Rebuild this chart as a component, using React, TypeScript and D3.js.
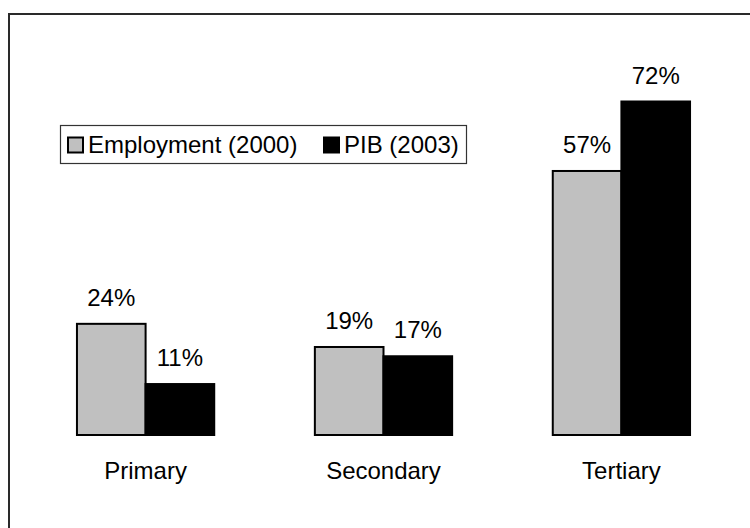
import React, { useEffect, useRef } from 'react'
import * as d3 from 'd3'

const categories = ['Primary', 'Secondary', 'Tertiary']
const seriesNames = ['Employment (2000)', 'PIB (2003)']
const employment = [24, 19, 57]
const pib = [11, 17, 72]
const colors = ['#c0c0c0', '#000000']

const W = 750
const H = 528

const App = () => {
  const ref = useRef<SVGSVGElement>(null)

  useEffect(() => {
    draw()
  }, [])

  const draw = () => {
    const svg = d3.select(ref.current)
    svg.selectAll('*').remove()

    const font = 'Arial, "Liberation Sans", sans-serif'

    // outer frame, runs off the right and bottom edges
    svg
      .append('rect')
      .attr('x', 9)
      .attr('y', 14)
      .attr('width', W + 20)
      .attr('height', H + 20)
      .attr('fill', '#fff')
      .attr('stroke', '#2a2a2a')
      .attr('stroke-width', 2)

    const x0 = d3
      .scaleBand()
      .domain(categories)
      .range([27, 740])
      .paddingInner(0.423)
      .paddingOuter(0.21)
    const x1 = d3.scaleBand().domain(seriesNames).range([0, x0.bandwidth()])
    const y = d3.scaleLinear().domain([0, 72]).range([435, 101.5])

    const rows = categories.map((c, i) => ({
      cat: c,
      vals: [employment[i], pib[i]],
    }))

    const groups = svg
      .append('g')
      .selectAll('g')
      .data(rows)
      .enter()
      .append('g')
      .attr('transform', (d) => `translate(${x0(d.cat)},0)`)

    groups
      .selectAll('rect')
      .data((d) => d.vals.map((v, j) => ({ v, j })))
      .enter()
      .append('rect')
      .attr('x', (d) => x1(seriesNames[d.j]) as number)
      .attr('y', (d) => y(d.v))
      .attr('width', x1.bandwidth())
      .attr('height', (d) => y(0) - y(d.v))
      .attr('fill', (d) => colors[d.j])
      .attr('stroke', '#000')
      .attr('stroke-width', 2)

    groups
      .selectAll('text.val')
      .data((d) => d.vals.map((v, j) => ({ v, j })))
      .enter()
      .append('text')
      .attr('class', 'val')
      .attr('x', (d) => (x1(seriesNames[d.j]) as number) + x1.bandwidth() / 2)
      .attr('y', (d) => y(d.v) - 18)
      .attr('text-anchor', 'middle')
      .style('font-family', font)
      .style('font-size', '24px')
      .text((d) => `${d.v}%`)

    // category labels
    svg
      .append('g')
      .selectAll('text')
      .data(categories)
      .enter()
      .append('text')
      .attr('x', (d) => (x0(d) as number) + x0.bandwidth() / 2)
      .attr('y', 479)
      .attr('text-anchor', 'middle')
      .style('font-family', font)
      .style('font-size', '24px')
      .text((d) => d)

    // legend
    const lg = svg.append('g')
    lg.append('rect')
      .attr('x', 60.5)
      .attr('y', 125.5)
      .attr('width', 406)
      .attr('height', 38)
      .attr('fill', '#fff')
      .attr('stroke', '#333')
      .attr('stroke-width', 1.2)

    const itemX = [68, 324]
    seriesNames.forEach((s, i) => {
      lg.append('rect')
        .attr('x', itemX[i])
        .attr('y', 137.5)
        .attr('width', 15)
        .attr('height', 15)
        .attr('fill', colors[i])
        .attr('stroke', '#000')
        .attr('stroke-width', 2)
      lg.append('text')
        .attr('x', itemX[i] + 20)
        .attr('y', 153)
        .style('font-family', font)
        .style('font-size', '24px')
        .text(s)
    })
  }

  return (
    <svg
      ref={ref}
      width={W}
      height={H}
      style={{ position: 'absolute', left: 0, top: 0, background: '#fff' }}
    />
  )
}

export default App
